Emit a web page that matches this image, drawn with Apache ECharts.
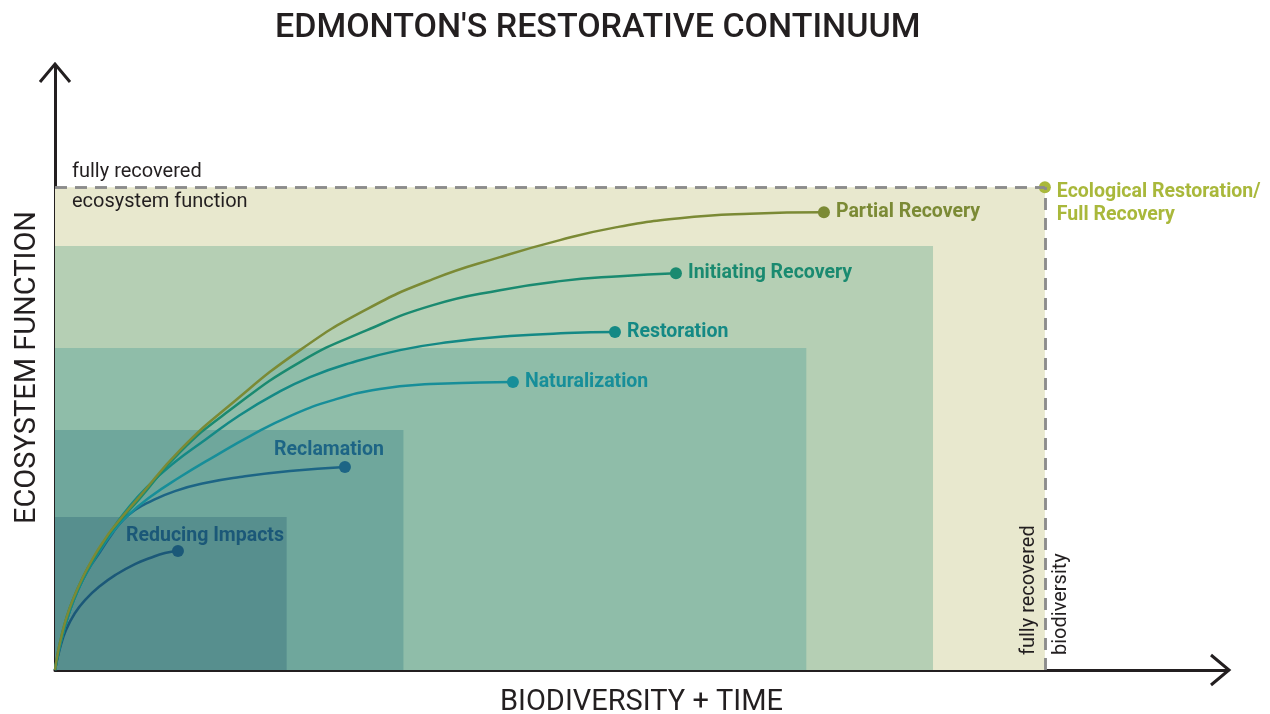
<!DOCTYPE html>
<html>
<head>
<meta charset="utf-8">
<title>Edmonton's Restorative Continuum</title>
<script src="https://cdn.jsdelivr.net/npm/echarts@6/dist/echarts.min.js"></script>
<style>
  html, body { margin: 0; padding: 0; background: #fff; }
  #chart { width: 1270px; height: 714px; }
</style>
</head>
<body>
<div id="chart"></div>
<script>
// biodiversity (x) and ecosystem function (y), 100 = fully recovered
const xMax = 118.5;
const yMax = 125.3;
const fullLevel = 100;

// nested zones, biggest first
const zoneX = [100, 88.7, 75.9, 35.2, 23.4];
const zoneY = [100, 87.8, 66.7, 49.7, 31.7];
const zoneColors = ["#e8e8ce", "#b5cfb4", "#8fbda9", "#6fa79c", "#578f8e"];

// curves
const reducingX = [0, 0.51, 1.11, 2.02, 3.03, 4.55, 6.26, 8.08, 9.6, 11.11, 12.42];
const reducingY = [0, 4.55, 8.28, 11.8, 14.49, 17.39, 19.88, 21.95, 23.19, 24.22, 24.64];

const reclamationX = [0, 0.4, 0.91, 1.52, 2.32, 3.33, 4.55, 5.76, 6.87, 8.08, 9.29, 12.12, 15.15, 18.69, 23.74, 29.29];
const reclamationY = [0, 4.14, 8.28, 12.42, 16.56, 20.7, 24.43, 28.16, 31.06, 33.13, 34.58, 37.06, 38.72, 39.96, 41.2, 42.03];

const naturalizationX = [0, 0.4, 0.91, 1.52, 2.32, 3.33, 4.55, 5.76, 7.07, 9.6, 12.63, 16.16, 19.7, 23.74, 28.08, 32.83, 37.88, 42.93, 46.26];
const naturalizationY = [0, 4.14, 8.28, 12.42, 16.56, 20.7, 24.84, 28.36, 31.47, 35.82, 39.96, 44.31, 48.45, 52.59, 55.9, 58.18, 59.21, 59.52, 59.63];

const restorationX = [0, 0.4, 0.91, 1.52, 2.32, 3.33, 4.55, 5.76, 7.07, 9.29, 12.12, 15.15, 18.69, 22.22, 25.76, 29.8, 34.85, 39.9, 45.96, 51.72, 56.57];
const restorationY = [0, 4.14, 8.28, 12.42, 16.56, 20.7, 25.05, 28.99, 32.71, 37.89, 43.06, 47.62, 52.8, 57.14, 60.66, 63.56, 66.25, 67.91, 69.15, 69.77, 69.98];

const initiatingX = [0, 0.3, 0.71, 1.21, 1.92, 2.83, 3.84, 4.85, 5.86, 8.59, 12.63, 17.68, 24.75, 31.52, 38.18, 44.95, 51.01, 57.07, 62.73];
const initiatingY = [0, 3.73, 7.45, 11.18, 15.11, 19.25, 22.98, 26.29, 29.19, 35.61, 45.13, 53.83, 63.77, 70.39, 75.57, 78.67, 80.54, 81.57, 82.19];

const partialX = [0, 0.3, 0.71, 1.21, 1.92, 2.83, 3.84, 4.85, 5.86, 8.59, 12.63, 17.68, 24.75, 31.52, 38.18, 44.95, 51.01, 56.77, 63.13, 70.2, 77.68];
const partialY = [0, 3.73, 7.45, 11.18, 15.11, 19.25, 23.19, 26.5, 29.4, 36.02, 45.55, 54.87, 66.25, 74.74, 80.95, 85.51, 89.03, 91.72, 93.58, 94.51, 94.82];

const stages = [
  { name: "Reducing Impacts", xs: reducingX, ys: reducingY, color: "#1b5878" },
  { name: "Reclamation", xs: reclamationX, ys: reclamationY, color: "#1d6585" },
  { name: "Naturalization", xs: naturalizationX, ys: naturalizationY, color: "#178e99" },
  { name: "Restoration", xs: restorationX, ys: restorationY, color: "#148985" },
  { name: "Initiating Recovery", xs: initiatingX, ys: initiatingY, color: "#1a8a70" },
  { name: "Partial Recovery", xs: partialX, ys: partialY, color: "#7b8a35" },
];
const fullName = "Ecological Restoration/\nFull Recovery";
const fullColor = "#a9b83b";

const FONT = "Roboto, 'Noto Sans', sans-serif";
const INK = "#231f20";

let chart = echarts.init(document.getElementById("chart"));

// label placement per stage
const labelPos = {
  "Reducing Impacts": { position: "top", offset: [27, 7] },
  "Reclamation": { position: "top", offset: [-16, 5] },
};

let curveSeries = stages.map((s) => ({
  name: s.name,
  type: "line",
  smooth: 0.5,
  symbol: "none",
  z: 3,
  lineStyle: { color: s.color, width: 2.5 },
  data: s.xs.map((x, i) => [x, s.ys[i]]),
}));

let endPoints = stages.map((s) => {
  let p = labelPos[s.name] || { position: "right", offset: [0, 0] };
  return {
    name: s.name,
    value: [s.xs[s.xs.length - 1], s.ys[s.ys.length - 1]],
    itemStyle: { color: s.color, opacity: 1 },
    label: { position: p.position, offset: p.offset, color: s.color },
  };
});
endPoints.push({
  name: fullName,
  value: [fullLevel, fullLevel],
  itemStyle: { color: fullColor, opacity: 1 },
  label: { position: "right", offset: [0, 16], color: fullColor, lineHeight: 23 },
});

const dashStyle = { color: "#8c8c8c", width: 2.5, type: [12, 8] };
const noteLabel = { color: INK, fontFamily: FONT, fontSize: 20 };

let option = {
  animation: false,
  title: {
    text: "EDMONTON'S RESTORATIVE CONTINUUM",
    left: 270,
    top: 6,
    textStyle: { fontFamily: FONT, fontSize: 34, fontWeight: 500, color: INK },
  },
  grid: { left: 55, right: 42, top: 65, bottom: 44, outerBoundsMode: "none", containLabel: false },
  xAxis: {
    type: "value",
    min: 0,
    max: xMax,
    name: "BIODIVERSITY + TIME",
    nameLocation: "middle",
    nameGap: 18,
    nameTextStyle: { fontFamily: FONT, fontSize: 29, color: INK, verticalAlign: "top" },
    axisLine: { show: true, onZero: false, lineStyle: { color: INK, width: 3 } },
    axisTick: { show: false },
    axisLabel: { show: false },
    splitLine: { show: false },
  },
  yAxis: {
    type: "value",
    min: 0,
    max: yMax,
    name: "ECOSYSTEM FUNCTION",
    nameLocation: "middle",
    nameGap: 13,
    nameRotate: 90,
    nameTextStyle: { fontFamily: FONT, fontSize: 29, color: INK },
    axisLine: { show: true, onZero: false, lineStyle: { color: INK, width: 3 } },
    axisTick: { show: false },
    axisLabel: { show: false },
    splitLine: { show: false },
  },
  series: [
    {
      name: "zones",
      type: "line",
      data: [],
      z: 1,
      markArea: {
        silent: true,
        data: zoneX.map((x, i) => [
          { coord: [0, 0], itemStyle: { color: zoneColors[i], opacity: 1 } },
          { coord: [x, zoneY[i]] },
        ]),
      },
      markLine: {
        silent: true,
        symbol: "none",
        lineStyle: dashStyle,
        data: [
          [
            { coord: [0, fullLevel], label: Object.assign({ formatter: "fully recovered", position: "insideStartTop", distance: [17, 5] }, noteLabel) },
            { coord: [fullLevel, fullLevel] },
          ],
          [
            { coord: [0, fullLevel], label: Object.assign({ formatter: "ecosystem function", position: "insideStartBottom", distance: [17, 5] }, noteLabel) },
            { coord: [fullLevel, fullLevel] },
          ],
          [
            { coord: [fullLevel, 0], label: Object.assign({ formatter: "fully recovered", position: "insideStartTop", distance: [15, 6] }, noteLabel) },
            { coord: [fullLevel, fullLevel] },
          ],
          [
            { coord: [fullLevel, 0], label: Object.assign({ formatter: "biodiversity", position: "insideStartBottom", distance: [15, 6] }, noteLabel) },
            { coord: [fullLevel, fullLevel] },
          ],
        ],
      },
    },
    ...curveSeries,
    {
      name: "stages",
      type: "scatter",
      symbolSize: 12,
      z: 4,
      itemStyle: { opacity: 1 },
      label: {
        show: true,
        formatter: "{b}",
        fontFamily: FONT,
        fontSize: 19.5,
        fontWeight: "bold",
        distance: 6,
      },
      data: endPoints,
    },
  ],
};
chart.setOption(option);

// open chevrons at the ends of both axes
let origin = chart.convertToPixel({ gridIndex: 0 }, [0, 0]);
let xTip = chart.convertToPixel({ gridIndex: 0 }, [xMax, 0]);
let yTip = chart.convertToPixel({ gridIndex: 0 }, [0, yMax]);
const arm = 15;
chart.setOption({
  graphic: [
    {
      type: "polyline",
      shape: { points: [[origin[0] - arm, yTip[1] + arm + 2], [origin[0], yTip[1] - 1], [origin[0] + arm, yTip[1] + arm + 2]] },
      style: { stroke: INK, lineWidth: 3, fill: null },
      z: 10,
    },
    {
      type: "polyline",
      shape: { points: [[xTip[0] - arm - 2, origin[1] - arm], [xTip[0] + 1, origin[1]], [xTip[0] - arm - 2, origin[1] + arm]] },
      style: { stroke: INK, lineWidth: 3, fill: null },
      z: 10,
    },
  ],
});
</script>
</body>
</html>
